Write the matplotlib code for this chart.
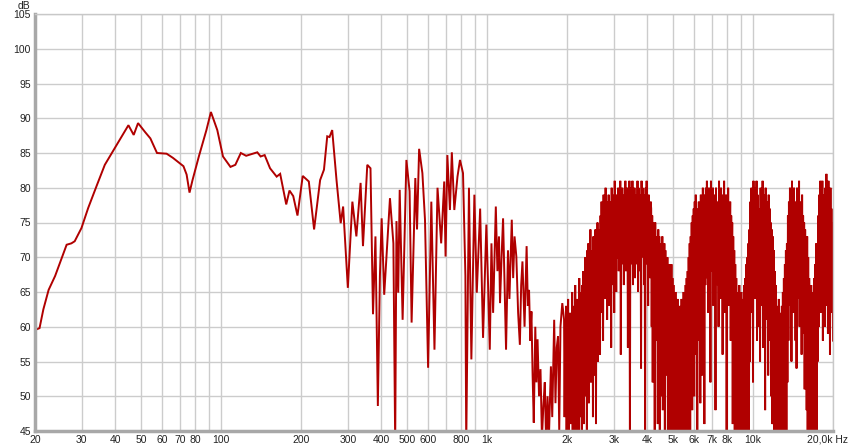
import numpy as np
import matplotlib.pyplot as plt

# low / mid range, read point by point (Hz, dB)
lf_freq = [20.2, 20.8, 21.5, 22.5, 23.8, 25.6, 26.3, 27.4, 28.2, 29.9, 31.7, 34.2, 36.6, 39.9,
           42.4, 44.9, 47.0, 48.8, 51.9, 54.3, 57.5, 62.5, 66.0, 72.3, 74.3, 76.2, 78.2, 82.6,
           88.2, 91.7, 96.9, 101.8, 108.6, 113.3, 118.8, 124.4, 137, 141, 146, 153, 162, 167,
           176, 181, 187, 194, 203, 214, 224, 236, 244, 251, 256, 262, 272, 282, 288, 300,
           312, 323, 335, 342, 355, 365, 373, 381, 389, 396, 402, 411, 432, 445, 452, 457,
           464, 470, 482, 498, 512, 521, 538, 546, 556, 572, 585, 601, 618, 635, 652, 673,
           691, 699, 710, 726, 738, 754, 775, 792, 813, 830, 836, 856, 874, 897, 916, 943,
           967, 995, 1010, 1025, 1040, 1055, 1080, 1095, 1110, 1120, 1135, 1150, 1165, 1180,
           1200, 1215, 1240, 1255, 1270, 1290, 1310, 1330, 1345, 1360, 1385, 1410, 1425, 1440,
           1455, 1470, 1485, 1500, 1520, 1535, 1550, 1570, 1590, 1610, 1630, 1650, 1670, 1690,
           1710, 1740, 1760, 1790, 1810, 1830, 1850, 1870, 1890, 1920]
lf_db = [59.6, 59.8, 62.5, 65.3, 67.3, 70.6, 71.8, 72.0, 72.3, 74.2, 77.1, 80.4, 83.3, 85.7,
         87.4, 89.0, 87.6, 89.3, 88.0, 87.1, 85.0, 84.9, 84.3, 83.1, 81.9, 79.3, 81.1, 84.5,
         88.3, 90.9, 88.3, 84.5, 83.0, 83.3, 85.0, 84.6, 85.1, 84.5, 84.7, 82.8, 81.6, 82.0,
         77.6, 79.6, 78.8, 76.0, 81.7, 80.9, 74.0, 81.1, 82.6, 87.4, 87.3, 88.3, 81.1, 74.9,
         77.3, 65.6, 78.0, 73.0, 80.7, 71.6, 83.3, 82.8, 61.8, 73.0, 48.6, 67.3, 75.6, 64.6,
         78.5, 72.0, 43.0, 75.2, 64.9, 79.7, 61.0, 84.0, 79.5, 60.6, 81.4, 74.0, 85.6, 82.1,
         75.4, 54.1, 78.0, 56.7, 80.0, 72.0, 80.9, 70.1, 84.7, 76.8, 85.1, 76.8, 81.6, 84.0,
         82.1, 67.3, 43.0, 80.0, 55.3, 79.0, 64.9, 77.0, 58.4, 74.7, 66.0, 56.7, 72.0, 62.0,
         77.3, 68.0, 73.0, 63.4, 70.0, 75.6, 66.0, 56.7, 71.0, 64.0, 75.4, 67.0, 73.0, 70.1,
         62.0, 57.4, 66.0, 69.4, 60.0, 71.6, 63.0, 65.3, 58.0, 62.2, 53.0, 46.2, 60.0, 52.0,
         58.2, 50.0, 53.9, 44.0, 48.6, 52.0, 43.0, 50.0, 44.0, 54.3, 47.0, 61.0, 49.0, 57.0,
         58.6, 45.0, 60.0, 63.4]

# high range, dense ripple read column by column (dB), 1.95k .. 20k log spaced
hf_db = [
    # 1.95k - 2.4k
    61, 47, 59, 52, 63, 44, 58, 50, 64, 43, 60, 54, 62, 46, 57, 51, 65, 44, 61, 49,
    63, 43, 66, 53, 60, 45, 64, 50, 62, 43, 67, 55, 63, 47, 65, 44, 66, 52, 68, 46,
    # 2.4k - 2.75k
    68, 50, 70, 55, 66, 45, 71, 58, 72, 49, 67, 56, 74, 52, 69, 60,
    71, 47, 73, 57, 70, 53, 74, 46, 72, 59, 75, 55, 71, 61, 74, 56,
    # 2.75k - 3.1k
    76, 62, 78, 66, 75, 58, 79, 68, 77, 64, 80, 69, 78, 61, 77, 67, 79,
    63, 76, 70, 78, 57, 80, 66, 79, 69, 77, 62, 81, 68, 78, 65, 79, 70,
    # 3.1k - 4.2k
    70, 80, 68, 78, 72, 81, 56, 79, 69, 80, 71, 77, 66, 79, 70, 81, 68, 78, 72, 80,
    57, 79, 70, 81, 44, 80, 69, 78, 71, 81, 66, 79, 70, 80, 67, 78, 73, 79, 69, 81,
    65, 80, 71, 78, 68, 79, 54, 81, 70, 80, 72, 78, 66, 79, 44, 80, 69, 81, 71, 78,
    63, 79, 70, 77, 67, 78,
    # 4.2k - 5k
    77, 60, 76, 52, 75, 64, 74, 44, 75, 58, 73, 62, 72, 46, 74, 55, 73, 44, 72, 50,
    71, 61, 73, 48, 70, 57, 72, 44, 71, 53, 69, 60, 70, 45, 68, 51, 69, 43, 68, 49,
    # 5k - 5.9k
    69, 44, 67, 48, 66, 43, 64, 46, 65, 44, 63, 47, 64, 43, 62, 45, 63,
    44, 62, 48, 64, 43, 63, 46, 65, 44, 64, 47, 66, 43, 67, 45, 68, 44,
    # 5.9k - 7k
    70, 52, 72, 45, 73, 60, 75, 48, 76, 63, 77, 50, 78, 64, 79, 56, 77,
    44, 75, 58, 78, 62, 76, 49, 79, 65, 77, 53, 80, 61, 78, 46, 79, 66,
    # 7k - 8.6k
    80, 67, 81, 70, 78, 62, 80, 71, 79, 52, 81, 68, 77, 70, 80, 63, 79, 72, 78, 48,
    80, 68, 77, 66, 78, 60, 81, 69, 79, 64, 80, 71, 78, 56, 79, 67, 81, 62, 77, 70,
    79, 45, 78, 66, 80, 63, 77, 69, 78, 58, 76, 65,
    # 8.6k - 9.5k
    75, 46, 73, 52, 71, 44, 69, 48, 67, 43, 65, 47, 64, 44, 66, 45, 63,
    43, 65, 48, 62, 44, 64, 46, 66, 43, 67, 47, 69, 44, 70, 50, 72, 45,
    # 9.5k - 11.2k
    74, 55, 78, 62, 80, 66, 79, 52, 81, 68, 80, 64, 78, 70, 81, 58, 79, 66, 77, 60,
    76, 55, 80, 63, 78, 69, 81, 57, 79, 65, 77, 48, 80, 67, 78, 61, 76, 53, 79, 64,
    77, 58, 75, 50, 74, 46,
    # 11.2k - 12.5k
    73, 46, 71, 44, 68, 49, 66, 43, 63, 47, 61, 44, 64, 45,
    62, 43, 60, 47, 63, 44, 65, 46, 67, 43, 69, 48, 71, 45,
    # 12.5k - 15k
    72, 52, 76, 58, 78, 63, 80, 66, 79, 55, 81, 68, 79, 62, 80, 65, 77, 58, 78, 54,
    80, 64, 79, 67, 81, 60, 78, 66, 77, 56, 79, 63, 76, 59, 75, 51, 74, 55, 73, 48,
    # 15k - 17k
    73, 45, 70, 44, 67, 48, 64, 43, 66, 46, 63, 44, 65, 47, 67, 43, 69, 46, 72, 45,
    # 17k - 20k
    70, 55, 76, 60, 79, 65, 81, 62, 80, 68, 81, 58, 79, 66, 77, 60,
    80, 63, 82, 67, 79, 59, 81, 64, 78, 56, 80, 62, 77, 66, 75, 58,
]
hf_freq = np.geomspace(1950, 20000, len(hf_db))

freq = np.concatenate([lf_freq, hf_freq])
db = np.concatenate([lf_db, hf_db])

grid_freqs = [20, 30, 40, 50, 60, 70, 80, 90, 100, 200, 300, 400, 500, 600, 700, 800, 900,
              1000, 2000, 3000, 4000, 5000, 6000, 7000, 8000, 9000, 10000, 20000]
grid_labels = ['20', '30', '40', '50', '60', '70', '80', '', '100', '200', '300', '400', '500',
               '600', '', '800', '', '1k', '2k', '3k', '4k', '5k', '6k', '7k', '8k', '', '10k', '']
y_ticks = list(range(45, 106, 5))

plt.rcParams['font.family'] = ['Liberation Sans', 'DejaVu Sans']

fig = plt.figure(figsize=(8.51, 4.47), dpi=100)
ax = fig.add_axes([35 / 851, 16 / 447, 798 / 851, 417 / 447])

ax.plot(freq, db, color='#b00000', lw=1.4, solid_joinstyle='miter')

ax.set_xscale('log')
ax.set_xlim(20, 20000)
ax.set_ylim(45, 105)
ax.set_xticks(grid_freqs)
ax.set_xticklabels(grid_labels)
ax.xaxis.set_minor_locator(plt.NullLocator())
ax.set_yticks(y_ticks)
ax.grid(True, color='#cccccc', lw=1.0)
ax.set_axisbelow(True)
ax.tick_params(length=0, labelsize=7.5, colors='#222222', pad=3)

for side in ['top', 'right']:
    ax.spines[side].set_color('#c8c8c8')
    ax.spines[side].set_linewidth(1.0)
for side in ['left', 'bottom']:
    ax.spines[side].set_color('#a8a8a8')
    ax.spines[side].set_linewidth(2.5)

fig.text(30 / 851, 1 - 6 / 447, 'dB', ha='right', va='center', fontsize=7.5, color='#222222')
fig.text(848 / 851, 1 - 439 / 447, '20,0k Hz', ha='right', va='center', fontsize=7.5,
         color='#222222')

fig.savefig('out.png', dpi=100)
